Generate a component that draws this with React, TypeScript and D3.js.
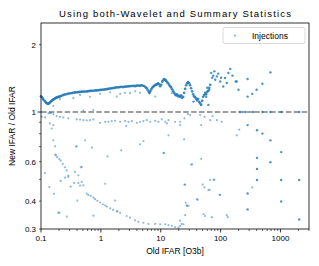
import * as d3 from 'd3';

// main branch (ratio > 1), read left to right
const mainBranch: [number, number][] = [
  [0.100, 1.175], [0.104, 1.163], [0.108, 1.145], [0.112, 1.129], [0.117, 1.115], [0.121, 1.101],
  [0.126, 1.092], [0.131, 1.087], [0.136, 1.092], [0.141, 1.104], [0.147, 1.115], [0.153, 1.127],
  [0.159, 1.135], [0.165, 1.143], [0.172, 1.150], [0.178, 1.157], [0.185, 1.162], [0.193, 1.166],
  [0.200, 1.171], [0.208, 1.175], [0.220, 1.181], [0.233, 1.190], [0.247, 1.196], [0.262, 1.201],
  [0.278, 1.206], [0.294, 1.210], [0.311, 1.213], [0.330, 1.216], [0.350, 1.221], [0.371, 1.224],
  [0.392, 1.226], [0.416, 1.227], [0.441, 1.230], [0.467, 1.231], [0.494, 1.233], [0.524, 1.234],
  [0.555, 1.235], [0.588, 1.236], [0.623, 1.240], [0.660, 1.242], [0.700, 1.244], [0.741, 1.245],
  [0.785, 1.248], [0.832, 1.249], [0.882, 1.250], [0.934, 1.253], [0.990, 1.256], [1.05, 1.257],
  [1.11, 1.260], [1.18, 1.262], [1.25, 1.265], [1.32, 1.268], [1.40, 1.272], [1.49, 1.276],
  [1.57, 1.278], [1.67, 1.282], [1.77, 1.286], [1.87, 1.290], [1.99, 1.290], [2.10, 1.294],
  [2.23, 1.297], [2.36, 1.293], [2.50, 1.298], [2.65, 1.300], [2.81, 1.302], [2.97, 1.304],
  [3.15, 1.306], [3.34, 1.307], [3.54, 1.310], [3.75, 1.305], [3.97, 1.311], [4.21, 1.314],
  [4.46, 1.310], [4.72, 1.315], [5.00, 1.313], [5.30, 1.306], [5.62, 1.290], [5.84, 1.276],
  [6.07, 1.254], [6.31, 1.231], [6.51, 1.215], [6.66, 1.238], [6.93, 1.262], [7.20, 1.284],
  [7.48, 1.297], [7.77, 1.310], [8.08, 1.320], [8.40, 1.326], [8.73, 1.332], [9.07, 1.345],
  [9.42, 1.331], [9.79, 1.304], [10.2, 1.324], [10.6, 1.366], [11.0, 1.387], [11.4, 1.405],
  [11.9, 1.391], [12.3, 1.378], [12.8, 1.362], [13.3, 1.345], [13.8, 1.324], [14.4, 1.304],
  [14.9, 1.288], [15.5, 1.264], [16.1, 1.240], [16.8, 1.218], [17.4, 1.200], [18.1, 1.187],
  [18.8, 1.200], [19.5, 1.175], [20.3, 1.181], [21.1, 1.169], [21.9, 1.187], [22.8, 1.157],
  [23.7, 1.169], [24.6, 1.218], [25.6, 1.270], [26.6, 1.317], [27.6, 1.345], [28.7, 1.359],
  [29.8, 1.345], [31.0, 1.317], [32.2, 1.277], [33.5, 1.238], [34.8, 1.200], [36.2, 1.175],
  [37.6, 1.163], [39.1, 1.145], [40.6, 1.127], [42.2, 1.145], [43.9, 1.110], [45.6, 1.092],
  [47.4, 1.076], [49.3, 1.121], [51.2, 1.169], [53.2, 1.193], [55.3, 1.218], [57.5, 1.200],
  [59.8, 1.231], [62.1, 1.244], [64.6, 1.284], [67.1, 1.324],
];

// sparse points above 1 at high IFAR
const upperSparse: [number, number][] = [
  [69.7, 1.496], [72.5, 1.424], [75.3, 1.454], [78.8, 1.520], [81.4, 1.395], [86.8, 1.443],
  [91.3, 1.484], [98.5, 1.370], [102, 1.424], [111, 1.301], [119, 1.419], [127, 1.348],
  [135, 1.495], [145, 1.559], [158, 1.454], [179, 1.370], [186, 1.370], [199, 1.257],
  [283, 1.405], [283, 1.172], [338, 1.206], [400, 1.257], [500, 1.338], [680, 1.504],
  [59.8, 1.284], [64.6, 1.257], [57.5, 1.169], [62.5, 1.076], [35.3, 1.113],
];

// faint points just under the main branch
const underBranch: [number, number][] = [
  [0.161, 1.064], [0.208, 1.141], [0.347, 1.153], [0.449, 1.193], [0.660, 1.169], [0.971, 1.206],
  [1.43, 1.225], [1.85, 1.172], [2.10, 1.206], [2.54, 1.218], [3.07, 1.214], [3.75, 1.238],
  [4.52, 1.218], [8.08, 1.172], [15.4, 1.214],
];

// points sitting on ratio = 1
const onUnity: [number, number][] = [
  [210, 1.0], [258, 1.0], [350, 1.0], [500, 1.0], [680, 1.0], [1030, 1.0], [2060, 1.0],
];

// band just below 1
const belowUnity: [number, number][] = [
  [0.103, 0.952], [0.117, 0.946], [0.133, 0.987], [0.141, 0.993], [0.147, 0.990], [0.161, 0.979],
  [0.183, 0.959], [0.208, 0.952], [0.236, 0.946], [0.286, 0.937], [0.394, 0.927], [0.449, 0.925],
  [0.510, 0.920], [0.581, 0.917], [0.660, 0.920], [0.750, 0.927], [0.510, 1.014], [0.750, 1.021],
  [0.971, 0.895], [1.18, 0.904], [1.34, 0.904], [1.52, 0.911], [1.73, 0.913], [2.10, 0.904],
  [2.54, 0.911], [2.89, 0.904], [3.29, 0.911], [3.99, 0.895], [4.52, 0.904], [5.14, 0.911],
  [5.85, 0.920], [6.66, 0.904], [8.08, 0.913], [9.18, 0.904], [10.4, 0.927], [11.9, 0.904],
  [12.7, 0.889], [13.5, 0.920], [2.65, 0.867], [0.141, 0.889], [0.161, 0.874], [0.151, 0.844],
  [17.4, 0.904], [21.1, 0.904], [21.1, 0.874], [24.9, 0.937], [28.4, 0.979], [31.0, 0.969],
  [45.6, 0.969], [47.4, 0.874], [53.9, 0.952], [67.1, 0.920], [73.4, 0.959], [86.8, 0.920],
  [105, 0.904],
];

// descending arc of low ratios
const lowArc: [number, number][] = [
  [0.172, 0.646], [0.178, 0.640], [0.186, 0.628], [0.202, 0.616], [0.213, 0.607], [0.231, 0.587],
  [0.252, 0.566], [0.269, 0.548], [0.286, 0.520], [0.581, 0.432], [0.617, 0.426], [0.677, 0.422],
  [0.750, 0.414], [0.801, 0.408], [0.876, 0.401], [0.971, 0.394], [1.08, 0.387], [1.18, 0.382],
  [1.26, 0.378], [1.43, 0.371], [1.60, 0.365], [1.85, 0.360], [2.10, 0.354], [2.70, 0.343],
  [3.07, 0.337], [3.73, 0.328], [4.24, 0.323], [5.14, 0.320], [6.25, 0.316], [8.08, 0.316],
  [9.79, 0.315], [11.9, 0.315], [13.5, 0.312], [15.4, 0.310], [17.4, 0.306],
];

// remaining scattered points below 1
const scattered: [number, number][] = [
  [0.161, 0.747], [0.172, 0.703], [0.545, 0.747], [0.385, 0.703], [0.706, 0.693], [2.18, 0.674],
  [4.52, 0.717], [5.14, 0.742], [11.1, 0.655], [1.29, 0.633], [0.462, 0.566], [0.117, 0.534],
  [0.138, 0.462], [0.165, 0.431], [0.195, 0.355], [0.202, 0.354], [0.269, 0.341], [0.213, 0.492],
  [0.252, 0.509], [0.286, 0.512], [0.314, 0.464], [0.357, 0.482], [0.421, 0.482], [0.449, 0.469],
  [0.479, 0.487], [0.479, 0.569], [0.394, 0.701], [0.405, 0.402], [0.750, 0.344], [1.18, 0.478],
  [1.73, 0.402], [1.89, 0.360], [0.371, 0.540], [0.421, 0.521], [0.510, 0.470],
  [13.5, 0.787], [11.4, 0.657], [24.6, 0.755], [33.5, 0.584], [25.6, 0.474], [50.2, 0.474],
  [65.5, 0.449], [76.4, 0.499], [96, 0.426], [27.1, 0.382], [52.1, 0.350], [21.1, 0.327],
  [22.4, 0.316], [205, 0.835], [186, 0.787], [47.4, 0.618], [32.3, 0.582],
  [67.1, 0.497], [78.8, 0.497], [24.9, 0.473], [53.9, 0.460], [62.6, 0.448], [338, 0.460],
  [98.5, 0.426], [26.2, 0.393], [27.6, 0.381], [29.0, 0.381], [40.1, 0.408],
  [41.6, 0.405], [25.6, 0.346], [55.3, 0.343], [71.3, 0.339], [127, 0.346],
  [132, 0.339], [24.0, 0.315], [21.1, 0.310], [19.8, 0.304],
];

// darker (stacked) points at high IFAR below 1
const stacked: [number, number][] = [
  [283, 0.874], [406, 0.829], [500, 0.801], [680, 0.747], [1030, 0.662], [406, 0.624],
  [680, 0.597], [406, 0.557], [406, 0.497], [1030, 0.497], [2060, 0.497], [283, 0.432],
  [1030, 0.398], [283, 0.367], [2060, 0.331],
];

const xTickLabels = [0.1, 1, 10, 100, 1000];
const yTickLabels = [0.3, 0.4, 0.6, 1, 2];

const W = 319;
const H = 266;
const M = { left: 41, top: 23, right: 10, bottom: 37 };
const FONT = '"Liberation Sans", Arial, sans-serif';
const BLUE = '#1f77b4';

export default function App() {
  const x = d3.scaleLog().domain([0.1, 3000]).range([M.left, W - M.right]);
  const y = d3.scaleLog().domain([0.3, 2.5]).range([H - M.bottom, M.top]);
  const [x0, x1] = x.range();
  const [y0, y1] = y.range();

  const xMinor: number[] = [];
  for (let d = 0.1; d < 3000; d *= 10) {
    for (let k = 2; k <= 9; k++) if (d * k <= 3000) xMinor.push(d * k);
  }
  const yMinor = [0.3, 0.4, 0.5, 0.6, 0.7, 0.8, 0.9, 2];

  const faint = [...belowUnity, ...lowArc, ...scattered, ...underBranch];
  const dark = [...stacked, ...onUnity, ...upperSparse];

  return (
    <svg width={W} height={H} style={{ position: 'absolute', left: 0, top: 0, background: '#fff' }} fontFamily={FONT}>
      <text x={(x0 + x1) / 2} y={17} textAnchor="middle" fontSize={9.5} textLength={232} lengthAdjust="spacing">
        Using both-Wavelet and Summary Statistics
      </text>

      <line x1={x0} x2={x1} y1={y(1)} y2={y(1)} stroke="#7f7f7f" strokeWidth={1.5} strokeDasharray="5.5,2.4" />

      <g>
        {faint.map((d, i) => (
          <circle key={'f' + i} cx={x(d[0])} cy={y(d[1])} r={1.1} fill={BLUE} fillOpacity={0.5} />
        ))}
        {dark.map((d, i) => (
          <circle key={'d' + i} cx={x(d[0])} cy={y(d[1])} r={1.2} fill={BLUE} fillOpacity={0.8} />
        ))}
        {mainBranch.map((d, i) => (
          <circle key={'m' + i} cx={x(d[0])} cy={y(d[1])} r={1.35} fill={BLUE} fillOpacity={0.85} />
        ))}
      </g>

      <rect x={x0} y={y1} width={x1 - x0} height={y0 - y1} fill="none" stroke="#000" strokeWidth={0.8} />

      {/* x ticks */}
      {xMinor.map((v) => (
        <line key={'xm' + v} x1={x(v)} x2={x(v)} y1={y0} y2={y0 + 2} stroke="#000" strokeWidth={0.6} />
      ))}
      {xTickLabels.map((v) => (
        <g key={'x' + v}>
          <line x1={x(v)} x2={x(v)} y1={y0} y2={y0 + 3.5} stroke="#000" strokeWidth={0.8} />
          <text x={x(v)} y={y0 + 12} textAnchor="middle" fontSize={8}>{v}</text>
        </g>
      ))}

      {/* y ticks */}
      {yMinor.map((v) => (
        <line key={'ym' + v} x1={x0 - 2} x2={x0} y1={y(v)} y2={y(v)} stroke="#000" strokeWidth={0.6} />
      ))}
      <line x1={x0 - 3.5} x2={x0} y1={y(1)} y2={y(1)} stroke="#000" strokeWidth={0.8} />
      {yTickLabels.map((v) => (
        <text key={'y' + v} x={x0 - 5} y={y(v) + 3} textAnchor="end" fontSize={8}>{v}</text>
      ))}

      <text x={(x0 + x1) / 2} y={254} textAnchor="middle" fontSize={8.5}>Old IFAR [O3b]</text>
      <text transform={`translate(15,${(y0 + y1) / 2}) rotate(-90)`} textAnchor="middle" fontSize={8.5}>
        New IFAR / Old IFAR
      </text>

      {/* legend */}
      <g>
        <rect x={223} y={27.5} width={82} height={16} rx={2} fill="#fff" fillOpacity={0.8} stroke="#d0d0d0" strokeWidth={0.8} />
        <circle cx={235} cy={35.7} r={1.1} fill={BLUE} fillOpacity={0.5} />
        <text x={252} y={38.7} fontSize={8.5}>Injections</text>
      </g>
    </svg>
  );
}
